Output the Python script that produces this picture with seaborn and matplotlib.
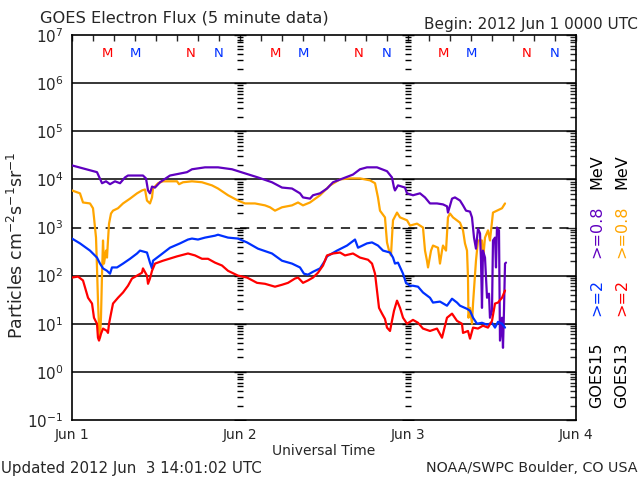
import numpy as np
import pandas as pd
import matplotlib
matplotlib.use("Agg")
import matplotlib.pyplot as plt
import seaborn as sns

# ---------------- data (hours since 2012 Jun 1 00:00 UTC, log10 flux) ----------------
pur_t = [0, 3.57, 4.29, 4.86, 5.43, 6.14, 6.86, 7.57, 8.0, 10.14, 10.57, 10.86, 11.14, 11.43, 11.86,
         12.57, 14.0, 16.43, 17.14, 19.0, 20.86, 22.86, 24.71, 26.57, 28.57, 30.0, 31.43, 32.57, 33.0,
         34.0, 34.43, 35.43, 36.43, 37.29, 38.71, 40.14, 41.14, 42.14, 43.57, 45.0, 45.71, 46.0, 46.14,
         46.57, 47.57, 47.86, 48.71, 49.71, 50.43, 51.14, 52.14, 53.0, 53.57, 53.71, 54.29, 54.71, 55.43,
         55.86, 56.29, 56.86, 57.14, 57.43, 57.71, 58.0, 58.29, 58.43, 58.57, 58.71, 59.0, 59.29, 59.57,
         59.71, 60.0, 60.14, 60.43, 60.57, 60.71, 61.0, 61.14, 61.43, 61.57, 61.71, 61.86, 62.0]
pur_l = [4.29, 4.15, 3.92, 3.96, 3.90, 3.96, 3.92, 4.04, 4.08, 4.08, 4.02, 3.77, 3.71, 3.85, 3.83,
         3.94, 4.08, 4.15, 4.21, 4.25, 4.25, 4.21, 4.125, 4.04, 3.94, 3.83, 3.81, 3.71, 3.625,
         3.60, 3.67, 3.71, 3.81, 3.94, 4.02, 4.10, 4.21, 4.25, 4.25, 4.17, 4.04, 3.83, 3.77,
         3.875, 3.83, 3.71, 3.67, 3.71, 3.625, 3.5, 3.5, 3.48, 3.44, 3.31, 3.60, 3.625, 3.56,
         3.46, 3.35, 3.33, 3.21, 2.79, 2.56, 2.98, 2.875, 2.31, 1.33, 2.52, 2.375, 1.54, 1.625,
         1.125, 1.27, 2.73, 2.79, 2.17, 3.0, 2.94, 0.65, 1.125, 0.5, 1.27, 2.25, 2.27]

org_t = [0, 1.14, 1.57, 2.57, 3.0, 3.14, 3.43, 3.57, 3.71, 3.86, 4.0, 4.14, 4.29, 4.43, 4.57, 4.86,
         5.0, 5.14, 5.29, 5.57, 5.86, 6.57, 7.29, 8.29, 9.29, 10.0, 10.43, 10.71, 11.14, 11.43, 11.57,
         12.29, 13.0, 15.0, 15.29, 15.86, 17.14, 18.57, 20.0, 20.86, 22.29, 23.71, 24.71, 26.14, 27.57,
         28.29, 29.0, 30.0, 31.43, 32.29, 33.0, 34.0, 35.43, 36.86, 38.29, 39.71, 41.14, 42.57, 43.29,
         43.71, 44.0, 44.71, 44.86, 45.0, 45.29, 45.57, 45.71, 45.86, 46.43, 46.86, 47.86, 48.29, 49.29,
         50.14, 50.43, 50.71, 50.86, 51.29, 51.57, 52.29, 52.57, 52.86, 53.0, 53.43, 53.71, 54.0, 54.43,
         55.43, 55.86, 56.14, 56.43, 56.57, 56.64, 56.86, 57.14, 57.29, 57.71, 58.0, 58.57, 58.71, 59.0,
         59.43, 59.71, 60.14, 60.71, 61.43, 61.86]
org_l = [3.77, 3.71, 3.52, 3.5, 3.40, 3.21, 2.79, 2.17, 1.48, 0.92, 0.71, 1.125, 2.04, 2.73, 2.25, 2.52,
         2.375, 2.73, 3.08, 3.29, 3.35, 3.40, 3.5, 3.60, 3.71, 3.77, 3.79, 3.56, 3.5, 3.625, 3.81,
         3.92, 3.96, 3.96, 3.90, 3.94, 3.96, 3.94, 3.875, 3.81, 3.67, 3.56, 3.5, 3.5, 3.46,
         3.42, 3.35, 3.42, 3.46, 3.52, 3.46, 3.52, 3.67, 3.875, 4.0, 4.02, 4.02, 3.98, 3.92,
         3.625, 3.35, 3.21, 2.94, 2.69, 2.52, 2.42, 2.79, 3.15, 3.31, 3.21, 3.15, 3.04, 3.08,
         3.0, 2.52, 2.31, 2.17, 2.52, 2.625, 2.58, 2.25, 2.52, 2.625, 2.52, 3.21, 3.29, 3.21,
         3.10, 2.94, 2.67, 2.52, 1.96, 1.125, 1.33, 1.0, 1.42, 2.31, 2.73, 2.73, 2.31, 2.79,
         2.94, 2.73, 3.31, 3.35, 3.40, 3.5]

blu_t = [0, 1.14, 2.57, 3.57, 4.0, 4.43, 5.0, 5.43, 5.71, 6.43, 7.29, 8.29, 9.29, 9.71, 10.71, 11.14,
         11.43, 11.57, 12.57, 14.0, 15.43, 16.57, 17.14, 18.0, 19.0, 20.43, 20.86, 22.29, 23.71, 25.0,
         26.57, 28.57, 30.0, 31.43, 32.57, 33.14, 33.71, 34.43, 35.43, 36.14, 36.43, 37.86, 39.29, 40.43,
         40.86, 42.14, 42.86, 43.71, 44.43, 45.43, 45.86, 46.14, 46.57, 47.29, 47.71, 48.29, 48.71, 49.43,
         50.14, 51.14, 51.57, 52.57, 53.57, 54.29, 55.0, 55.43, 56.43, 56.86, 57.29, 57.86, 58.57, 59.29,
         60.0, 60.43, 60.86, 61.43, 61.86]
blu_l = [2.77, 2.67, 2.52, 2.375, 2.25, 2.15, 2.10, 2.04, 2.17, 2.17, 2.25, 2.35, 2.46, 2.52, 2.48, 2.27,
         2.15, 2.31, 2.42, 2.58, 2.67, 2.75, 2.77, 2.75, 2.79, 2.83, 2.85, 2.79, 2.77, 2.69,
         2.56, 2.46, 2.31, 2.25, 2.17, 2.04, 2.02, 2.08, 2.15, 2.31, 2.40, 2.52, 2.625, 2.75,
         2.58, 2.67, 2.69, 2.625, 2.52, 2.48, 2.375, 2.25, 2.27, 2.04, 1.85, 1.79, 1.79, 1.77,
         1.65, 1.54, 1.44, 1.46, 1.375, 1.52, 1.44, 1.375, 1.31, 1.27, 1.125, 1.0, 1.02, 0.98,
         1.02, 0.92, 1.04, 1.0, 0.92]

red_t = [0, 0.86, 1.57, 2.29, 2.86, 3.14, 3.57, 3.71, 3.86, 4.14, 4.43, 5.0, 5.14, 5.29, 5.57, 5.86,
         6.57, 7.29, 8.0, 8.57, 9.29, 10.0, 10.14, 10.71, 10.86, 11.14, 11.43, 11.86, 13.0, 15.0, 16.57,
         17.57, 18.57, 19.43, 20.43, 21.43, 22.29, 23.71, 25.0, 26.43, 27.57, 29.0, 30.0, 30.86, 31.86,
         32.29, 33.0, 33.71, 34.43, 35.14, 35.86, 36.43, 37.29, 38.29, 39.0, 40.14, 41.14, 42.29, 42.86,
         43.29, 43.57, 43.86, 44.29, 44.71, 45.0, 45.43, 45.71, 46.0, 46.43, 46.86, 47.29, 47.86, 48.71,
         49.43, 50.14, 51.14, 52.14, 52.86, 53.57, 54.29, 55.0, 55.71, 55.86, 56.57, 56.86, 57.29, 58.0,
         58.71, 59.43, 60.0, 60.43, 60.86, 61.43, 61.86]
red_l = [1.96, 1.98, 1.90, 1.54, 1.42, 1.125, 1.0, 0.71, 0.65, 0.79, 0.90, 0.85, 0.81, 1.0, 1.21, 1.42,
         1.54, 1.65, 1.79, 1.94, 2.0, 2.06, 2.15, 2.0, 1.83, 1.94, 2.10, 2.25, 2.31, 2.40, 2.46,
         2.42, 2.35, 2.35, 2.27, 2.21, 2.10, 2.0, 1.96, 1.85, 1.83, 1.77, 1.81, 1.85, 1.94,
         1.96, 1.85, 1.90, 1.96, 2.06, 2.21, 2.42, 2.46, 2.48, 2.42, 2.46, 2.375, 2.33, 2.25,
         2.04, 1.69, 1.33, 1.21, 1.10, 0.92, 0.85, 1.06, 1.27, 1.48, 1.33, 1.125, 1.0, 1.08,
         1.02, 0.90, 0.85, 0.90, 0.71, 1.125, 1.21, 1.06, 1.0, 0.81, 0.85, 0.69, 0.92, 0.90,
         0.96, 0.92, 1.06, 1.42, 1.44, 1.54, 1.69]

series_names = ["GOES13 >=0.8 MeV", "GOES15 >=0.8 MeV", "GOES15 >=2 MeV", "GOES13 >=2 MeV"]
series_colors = ["#FFA500", "#6000C0", "#0030FF", "#FF0000"]

day_ticks = [0, 24, 48, 72]
day_labels = ["Jun 1", "Jun 2", "Jun 3", "Jun 4"]
decades = [-1, 0, 1, 2, 3, 4, 5, 6, 7]

# satellite local midnight / noon markers (hour of day)
mark_hours = [5, 9, 17, 21]
mark_text = ["M", "M", "N", "N"]
mark_colors = ["#FF0000", "#0030FF", "#FF0000", "#0030FF"]

# ---------------- build frame ----------------
frames = []
for name, t, l in zip(series_names, [org_t, pur_t, blu_t, red_t], [org_l, pur_l, blu_l, red_l]):
    frames.append(pd.DataFrame({"hours": t, "flux": 10 ** np.array(l), "series": name}))
df = pd.concat(frames, ignore_index=True)

sns.set_style("white")
plt.rcParams["font.family"] = ["DejaVu Sans"]

fig = plt.figure(figsize=(6.4, 4.8), dpi=100)
ax = fig.add_axes([72 / 640, 1 - 420 / 480, (576 - 72) / 640, (420 - 35) / 480])

# horizontal decade lines
for d in range(0, 7):
    ax.axhline(10.0 ** d, color="black", lw=1.1, ls=(0, (6, 5)) if d == 3 else "-", zorder=1)

sns.lineplot(data=df, x="hours", y="flux", hue="series", hue_order=series_names,
             palette=series_colors, estimator=None, sort=False, lw=1.6, legend=False,
             ax=ax, zorder=3)

ax.set_yscale("log")
ax.set_ylim(1e-1, 1e7)
ax.set_xlim(0, 72)

# y-tick columns at day boundaries
minor_vals = [m * 10.0 ** d for d in decades[:-1] for m in range(2, 10)]
major_vals = [10.0 ** d for d in decades]
for xd in [24, 48]:
    ax.plot([xd] * len(minor_vals), minor_vals, ls="none", marker="_", ms=4.5, mew=1, color="black", zorder=2)
    ax.plot([xd] * len(major_vals), major_vals, ls="none", marker="_", ms=8, mew=1, color="black", zorder=2)

ax.set_yticks(major_vals)
ax.set_yticklabels([f"$10^{{{d}}}$" for d in decades], fontsize=11)
ax.yaxis.set_minor_locator(matplotlib.ticker.LogLocator(base=10, subs=np.arange(2, 10), numticks=20))
ax.yaxis.set_minor_formatter(matplotlib.ticker.NullFormatter())
ax.set_xticks(day_ticks)
ax.set_xticklabels(day_labels, fontsize=10)
ax.set_xticks(np.arange(0, 73, 3), minor=True)
ax.tick_params(axis="both", which="major", direction="in", length=7, width=1, top=True, right=True, pad=6)
ax.tick_params(axis="both", which="minor", direction="in", length=4, width=1, top=True, right=True)
ax.tick_params(axis="x", which="major", length=4)
for s in ax.spines.values():
    s.set_color("black")
    s.set_linewidth(1.2)

ax.set_xlabel("Universal Time", fontsize=10, labelpad=1)
ax.set_ylabel("Particles cm$^{-2}$s$^{-1}$sr$^{-1}$", fontsize=12.5)
ax.yaxis.set_label_coords(-(72 - 27) / 504, (420 - 245) / 385)

# M / N markers
for day in range(3):
    for h, txt, c in zip(mark_hours, mark_text, mark_colors):
        ax.text(day * 24 + h, 4.2e6, txt, color=c, ha="center", va="center", fontsize=9.5)

# titles / footer
fig.text(40 / 640, 1 - 18 / 480, "GOES Electron Flux (5 minute data)", fontsize=11.7, va="center", ha="left")
fig.text(638 / 640, 1 - 24 / 480, "Begin: 2012 Jun 1 0000 UTC", fontsize=11, va="center", ha="right")
fig.text(1 / 640, 1 - 468 / 480, "Updated 2012 Jun  3 14:01:02 UTC", fontsize=10.8, va="center", ha="left")
fig.text(638 / 640, 1 - 468 / 480, "NOAA/SWPC Boulder, CO USA", fontsize=10.3, va="center", ha="right")

# right-side legend (rotated)
rl = [
    (597, 375, "GOES15", "black"), (597, 297, ">=2", "#0030FF"), (597, 232, ">=0.8", "#6000C0"), (597, 172, "MeV", "black"),
    (622, 375, "GOES13", "black"), (622, 297, ">=2", "#FF0000"), (622, 232, ">=0.8", "#FFA500"), (622, 172, "MeV", "black"),
]
for x, y, txt, c in rl:
    fig.text(x / 640, 1 - y / 480, txt, rotation=90, color=c, fontsize=11.5, ha="center", va="center")

fig.savefig("out.png", dpi=100)
